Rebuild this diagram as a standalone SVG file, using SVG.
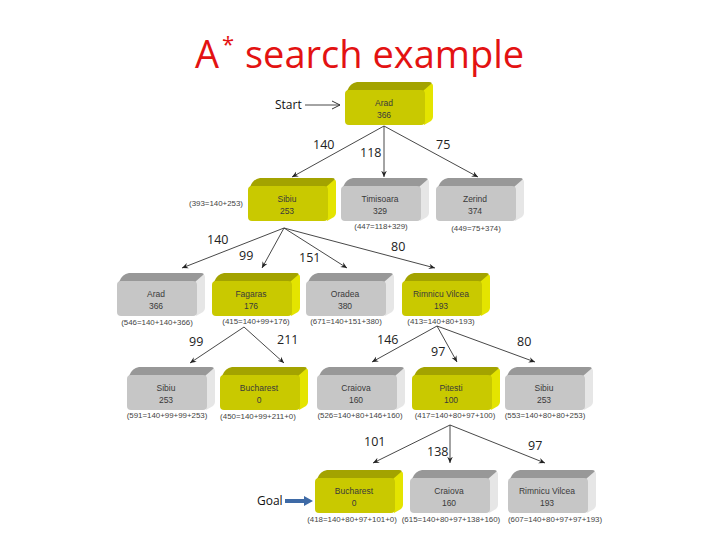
<svg xmlns="http://www.w3.org/2000/svg" xmlns:xlink="http://www.w3.org/1999/xlink" width="720" height="540" viewBox="0 0 720 540">
<style>
.title{font-family:"Open Sans","Liberation Sans",sans-serif;fill:#e31212}
.bt{font-family:"Liberation Sans",Arial,sans-serif;font-size:8.5px;fill:#3a3a3a;text-anchor:middle}
.cost{font-family:"Liberation Sans",Arial,sans-serif;font-size:7.9px;fill:#444;text-anchor:middle}
.el{font-family:"Open Sans","Liberation Sans",sans-serif;font-size:12.5px;fill:#222}
.lbl{font-family:"Open Sans","Liberation Sans",sans-serif;font-size:12px;fill:#111}
.edge{stroke:#333;stroke-width:0.9;fill:none;marker-end:url(#ah)}
</style>
<defs>
<marker id="ah" viewBox="0 0 10 10" refX="9" refY="5" markerWidth="7" markerHeight="7" orient="auto" markerUnits="userSpaceOnUse">
<path d="M0,1 L9,5 L0,9 L3,5 Z" fill="#222"/>
</marker>
<marker id="openah" viewBox="0 0 10 10" refX="9" refY="5" markerWidth="10" markerHeight="10" orient="auto" markerUnits="userSpaceOnUse">
<path d="M1,1 L9,5 L1,9" fill="none" stroke="#333" stroke-width="1"/>
</marker>
<g id="boxY">
<path d="M2,9 Q5,1 12,0 L84,0 Q88,0 86,3 L80,9 Z" fill="#a3a300"/>
<path d="M78,9 L86,2 Q88,1 88,5 L88,35 Q88,37 86,39 L79,43 Z" fill="#e4e400"/>
<rect x="0" y="8" width="80" height="35" rx="4" fill="#c9c900"/>
</g>
<g id="boxG">
<path d="M2,9 Q5,1 12,0 L84,0 Q88,0 86,3 L80,9 Z" fill="#989898"/>
<path d="M78,9 L86,2 Q88,1 88,5 L88,35 Q88,37 86,39 L79,43 Z" fill="#e6e6e6"/>
<rect x="0" y="8" width="80" height="35" rx="4" fill="#c6c6c6"/>
</g>
</defs>
<rect width="720" height="540" fill="#fff"/>
<g id="title">
<text class="title" x="195" y="68" font-size="38">A</text>
<text class="title" x="222" y="52" font-size="22">*</text>
<text class="title" x="245" y="68" font-size="38">search example</text>
</g>
<g id="connectors">
<line class="edge" x1="384" y1="126" x2="292" y2="177"/>
<line class="edge" x1="384" y1="126" x2="384" y2="177"/>
<line class="edge" x1="384" y1="126" x2="478" y2="177"/>
<line class="edge" x1="284" y1="228" x2="182" y2="268"/>
<line class="edge" x1="284" y1="228" x2="262" y2="268"/>
<line class="edge" x1="284" y1="228" x2="347" y2="268"/>
<line class="edge" x1="284" y1="228" x2="435" y2="268"/>
<line class="edge" x1="244" y1="327" x2="190" y2="363"/>
<line class="edge" x1="244" y1="327" x2="284" y2="363"/>
<line class="edge" x1="437" y1="326" x2="372" y2="362"/>
<line class="edge" x1="437" y1="326" x2="457" y2="362"/>
<line class="edge" x1="437" y1="326" x2="535" y2="362"/>
<line class="edge" x1="450" y1="425" x2="373" y2="463"/>
<line class="edge" x1="450" y1="425" x2="450" y2="463"/>
<line class="edge" x1="450" y1="425" x2="545" y2="463"/>
<line x1="305" y1="105" x2="340" y2="105" stroke="#333" stroke-width="0.9" marker-end="url(#openah)"/>
<path d="M285,499 L304,499 L304,496 L313,501 L304,506 L304,503 L285,503 Z" fill="#3e6aa6"/>
</g>
<g id="edge-labels">
<text class="el" x="313" y="149">140</text>
<text class="el" x="360" y="157">118</text>
<text class="el" x="436" y="149">75</text>
<text class="el" x="207" y="244">140</text>
<text class="el" x="239" y="260">99</text>
<text class="el" x="299" y="262">151</text>
<text class="el" x="391" y="251">80</text>
<text class="el" x="189" y="346">99</text>
<text class="el" x="277" y="344">211</text>
<text class="el" x="377" y="344">146</text>
<text class="el" x="431" y="356">97</text>
<text class="el" x="517" y="346">80</text>
<text class="el" x="364" y="446">101</text>
<text class="el" x="427" y="456">138</text>
<text class="el" x="528" y="450">97</text>
<text class="lbl" x="275" y="109">Start</text>
<text class="lbl" x="257" y="505">Goal</text>
</g>
<g id="n-arad0"><use xlink:href="#boxY" x="345" y="82"/><text class="bt" x="384" y="106">Arad</text><text class="bt" x="384" y="118">366</text></g>
<g id="n-sibiu1"><use xlink:href="#boxY" x="248" y="178"/><text class="bt" x="287" y="202">Sibiu</text><text class="bt" x="287" y="214">253</text><text class="cost" x="216" y="206">(393=140+253)</text></g>
<g id="n-timisoara"><use xlink:href="#boxG" x="341" y="178"/><text class="bt" x="380" y="202">Timisoara</text><text class="bt" x="380" y="214">329</text><text class="cost" x="381" y="229">(447=118+329)</text></g>
<g id="n-zerind"><use xlink:href="#boxG" x="436" y="178"/><text class="bt" x="475" y="202">Zerind</text><text class="bt" x="475" y="214">374</text><text class="cost" x="476" y="231">(449=75+374)</text></g>
<g id="n-arad2"><use xlink:href="#boxG" x="117" y="273"/><text class="bt" x="156" y="297">Arad</text><text class="bt" x="156" y="309">366</text><text class="cost" x="157" y="325">(546=140+140+366)</text></g>
<g id="n-fagaras"><use xlink:href="#boxY" x="212" y="273"/><text class="bt" x="251" y="297">Fagaras</text><text class="bt" x="251" y="309">176</text><text class="cost" x="256" y="324">(415=140+99+176)</text></g>
<g id="n-oradea"><use xlink:href="#boxG" x="306" y="273"/><text class="bt" x="345" y="297">Oradea</text><text class="bt" x="345" y="309">380</text><text class="cost" x="346" y="324">(671=140+151+380)</text></g>
<g id="n-rimnicu"><use xlink:href="#boxY" x="402" y="273"/><text class="bt" x="441" y="297">Rimnicu Vilcea</text><text class="bt" x="441" y="309">193</text><text class="cost" x="441" y="324">(413=140+80+193)</text></g>
<g id="n-sibiu3"><use xlink:href="#boxG" x="127" y="367"/><text class="bt" x="166" y="391">Sibiu</text><text class="bt" x="166" y="403">253</text><text class="cost" x="167" y="418">(591=140+99+99+253)</text></g>
<g id="n-bucharest3"><use xlink:href="#boxY" x="220" y="367"/><text class="bt" x="259" y="391">Bucharest</text><text class="bt" x="259" y="403">0</text><text class="cost" x="258" y="419">(450=140+99+211+0)</text></g>
<g id="n-craiova3"><use xlink:href="#boxG" x="317" y="367"/><text class="bt" x="356" y="391">Craiova</text><text class="bt" x="356" y="403">160</text><text class="cost" x="360" y="418">(526=140+80+146+160)</text></g>
<g id="n-pitesti"><use xlink:href="#boxY" x="412" y="367"/><text class="bt" x="451" y="391">Pitesti</text><text class="bt" x="451" y="403">100</text><text class="cost" x="455" y="418">(417=140+80+97+100)</text></g>
<g id="n-sibiu4"><use xlink:href="#boxG" x="505" y="367"/><text class="bt" x="544" y="391">Sibiu</text><text class="bt" x="544" y="403">253</text><text class="cost" x="545" y="418">(553=140+80+80+253)</text></g>
<g id="n-bucharest5"><use xlink:href="#boxY" x="315" y="470"/><text class="bt" x="354" y="494">Bucharest</text><text class="bt" x="354" y="506">0</text><text class="cost" x="352" y="522">(418=140+80+97+101+0)</text></g>
<g id="n-craiova5"><use xlink:href="#boxG" x="410" y="470"/><text class="bt" x="449" y="494">Craiova</text><text class="bt" x="449" y="506">160</text><text class="cost" x="451" y="522">(615=140+80+97+138+160)</text></g>
<g id="n-rimnicu5"><use xlink:href="#boxG" x="508" y="470"/><text class="bt" x="547" y="494">Rimnicu Vilcea</text><text class="bt" x="547" y="506">193</text><text class="cost" x="555" y="522">(607=140+80+97+97+193)</text></g>
</svg>
